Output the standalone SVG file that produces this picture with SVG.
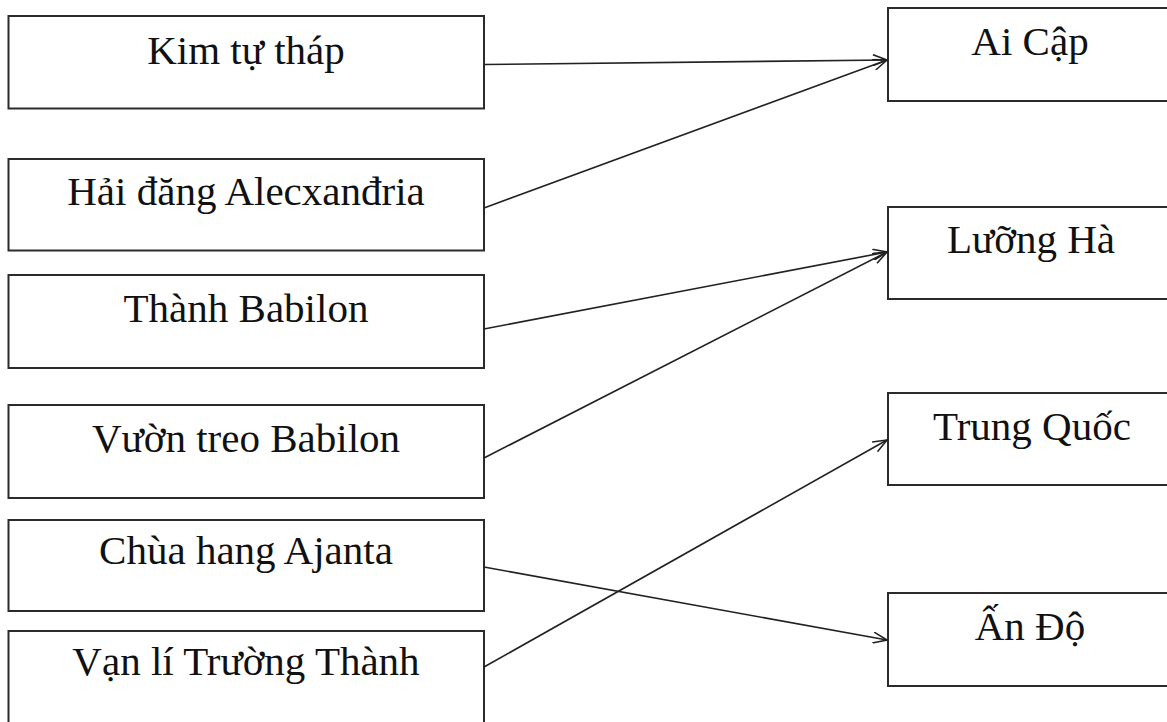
<svg xmlns="http://www.w3.org/2000/svg" width="1167" height="722" viewBox="0 0 1167 722">
<defs>
<style>
.box{fill:#fff;stroke:#2b2b2b;stroke-width:2}
.lbl{font-family:"Liberation Serif","Times New Roman",serif;font-size:41px;fill:#111;text-anchor:middle}
.conn{fill:none;stroke:#222;stroke-width:1.6}
</style>
<marker id="arr" viewBox="0 0 16 12" refX="15" refY="6" markerWidth="16" markerHeight="12" markerUnits="userSpaceOnUse" orient="auto">
<path d="M1,0.5 L15,6 L1,11.5" fill="none" stroke="#222" stroke-width="1.6"/>
</marker>
</defs>
<rect width="1167" height="722" fill="#fff"/>
<g id="kim-tu-thap"><rect class="box" x="8.5" y="16" width="475.5" height="92.5"/><text class="lbl" x="246" y="64">Kim tự tháp</text></g>
<g id="hai-dang"><rect class="box" x="8.5" y="159" width="475.5" height="91.5"/><text class="lbl" x="246" y="205">Hải đăng Alecxanđria</text></g>
<g id="thanh-babilon"><rect class="box" x="8.5" y="275" width="475.5" height="93"/><text class="lbl" x="246" y="322">Thành Babilon</text></g>
<g id="vuon-treo"><rect class="box" x="8.5" y="405" width="475.5" height="93"/><text class="lbl" x="246" y="452">Vườn treo Babilon</text></g>
<g id="chua-hang"><rect class="box" x="8.5" y="520" width="475.5" height="91"/><text class="lbl" x="246" y="564">Chùa hang Ajanta</text></g>
<g id="van-li"><rect class="box" x="8.5" y="631" width="475.5" height="120"/><text class="lbl" x="246" y="675">Vạn lí Trường Thành</text></g>
<g id="ai-cap"><rect class="box" x="888" y="8" width="300" height="93"/><text class="lbl" x="1030" y="55">Ai Cập</text></g>
<g id="luong-ha"><rect class="box" x="888" y="207" width="300" height="92"/><text class="lbl" x="1031" y="253">Lưỡng Hà</text></g>
<g id="trung-quoc"><rect class="box" x="888" y="393" width="300" height="92"/><text class="lbl" x="1032" y="440">Trung Quốc</text></g>
<g id="an-do"><rect class="box" x="888" y="593" width="300" height="93"/><text class="lbl" x="1030" y="640">Ấn Độ</text></g>
<g id="connectors">
<line class="conn" x1="484" y1="64.5" x2="887" y2="60" marker-end="url(#arr)"/>
<line class="conn" x1="484" y1="208" x2="887" y2="60" marker-end="url(#arr)"/>
<line class="conn" x1="484" y1="329" x2="887" y2="252" marker-end="url(#arr)"/>
<line class="conn" x1="484" y1="458" x2="887" y2="252" marker-end="url(#arr)"/>
<line class="conn" x1="484" y1="567" x2="887" y2="640" marker-end="url(#arr)"/>
<line class="conn" x1="484" y1="667" x2="887" y2="440" marker-end="url(#arr)"/>
</g>
</svg>
